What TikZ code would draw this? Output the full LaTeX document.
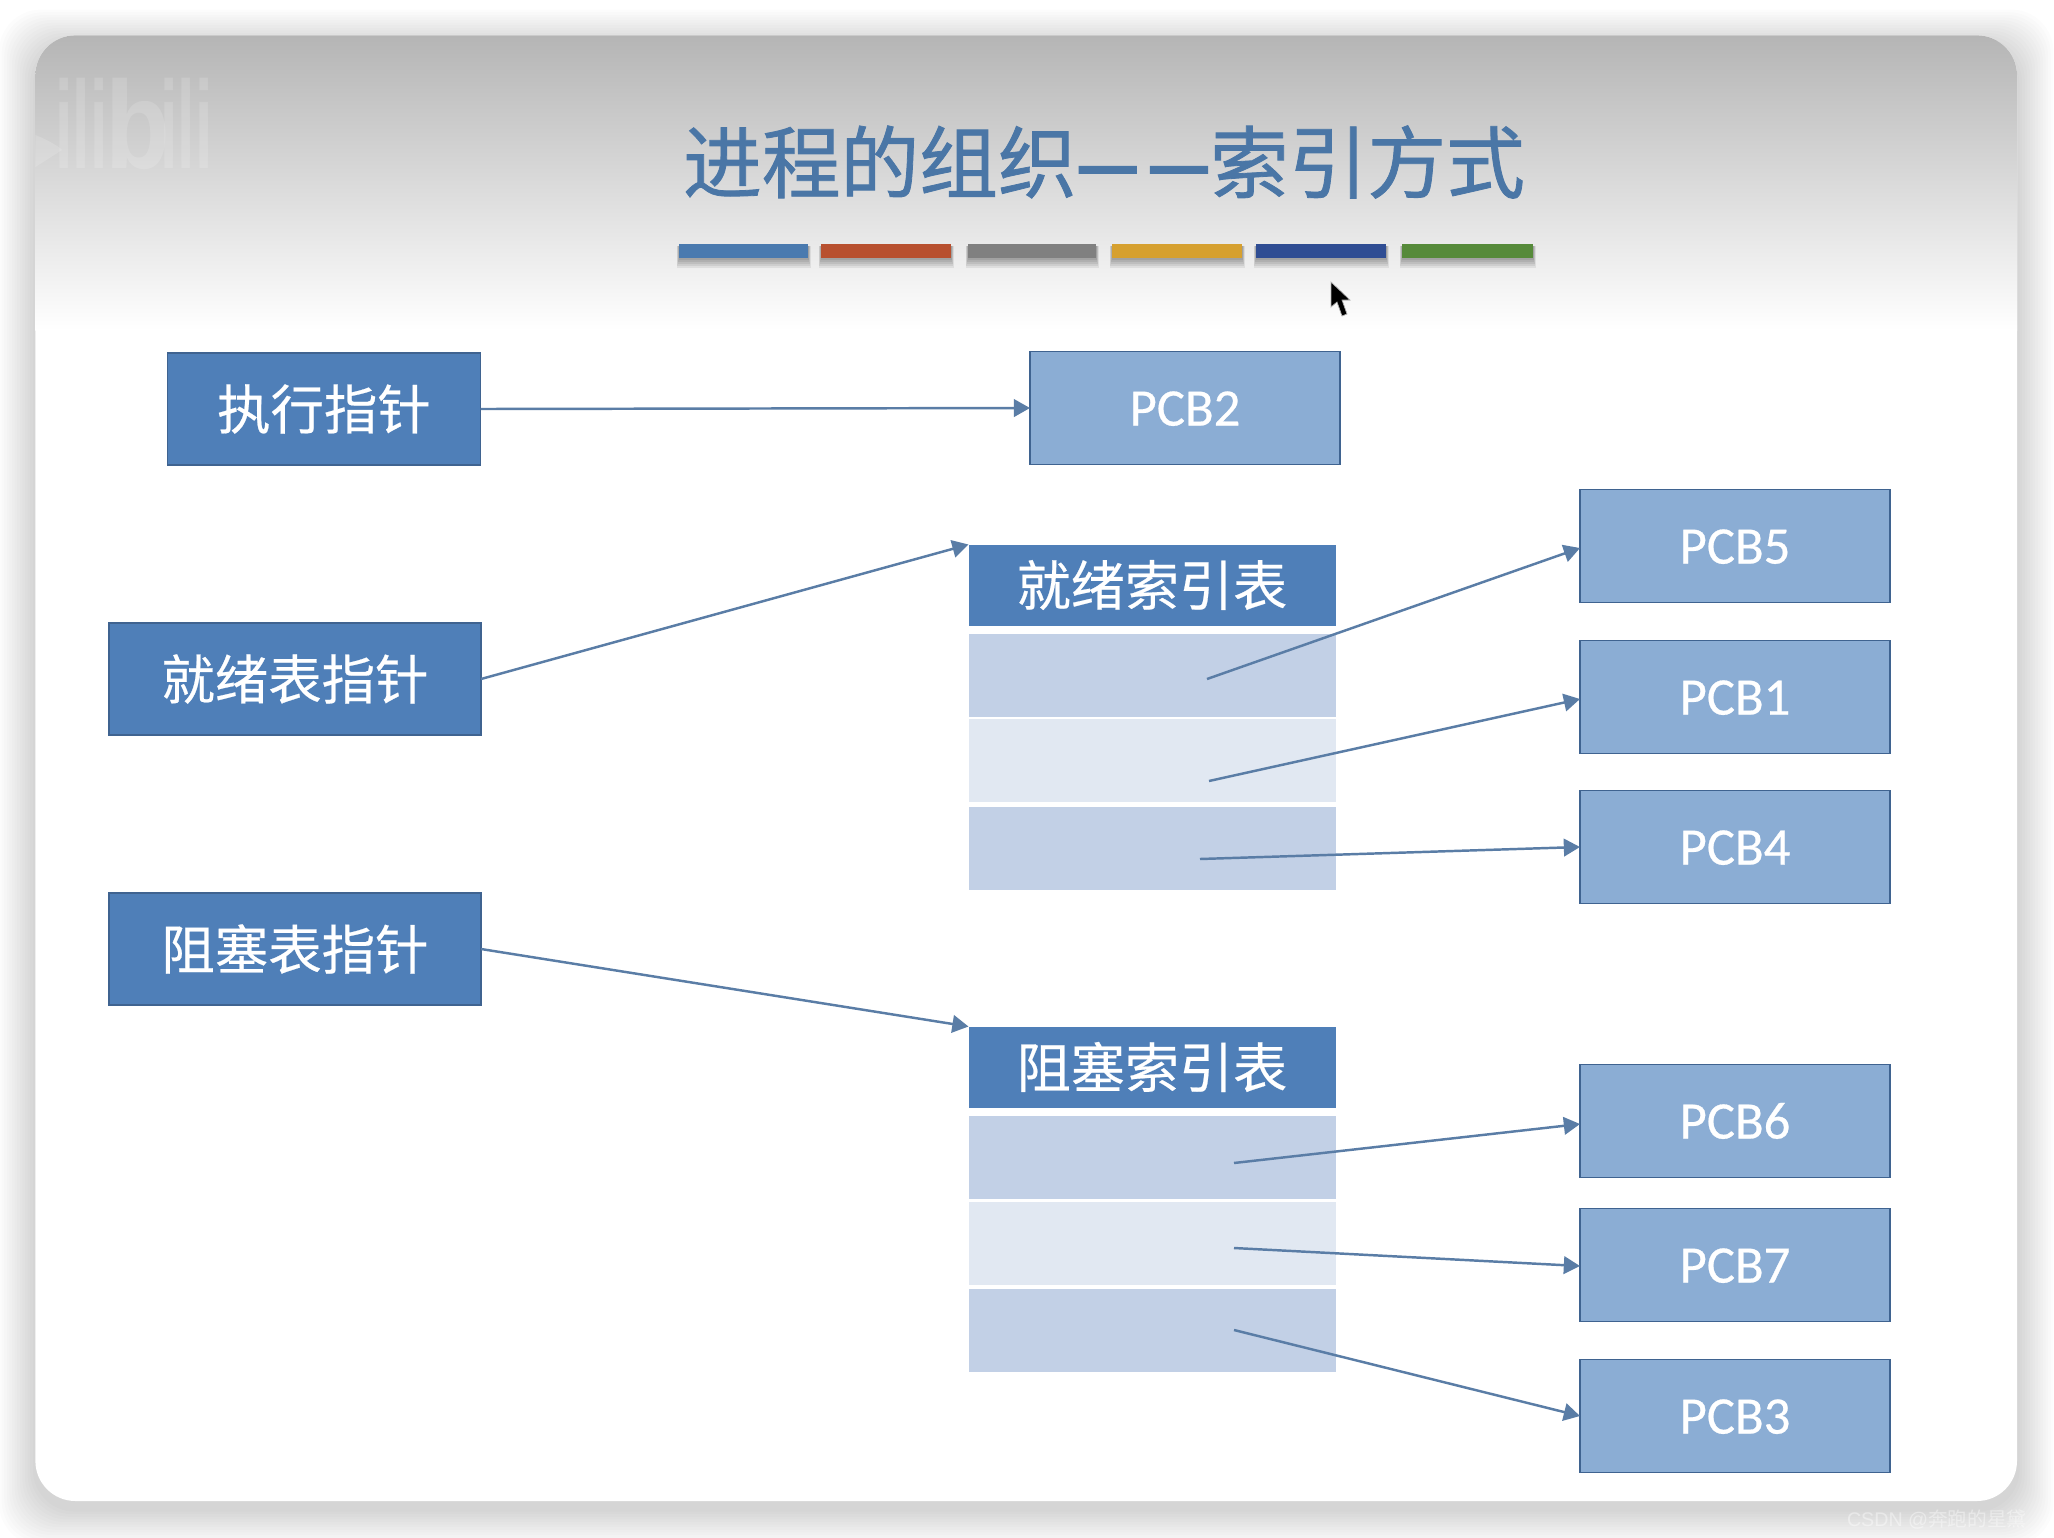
\documentclass[tikz,border=0pt]{standalone}
\usepackage{fontspec}
\setmainfont[FakeBold=0.5]{Carlito}
\newfontfamily\cjk[FakeBold=0.4]{Noto Sans CJK SC}
\newfontfamily\cjktitle[FakeBold=1.0]{Noto Sans CJK SC}
\newfontfamily\cjkdash[FakeBold=4]{Noto Sans CJK SC}
\newfontfamily\cjkthin{Noto Sans CJK SC}
\newfontfamily\wmfont{Liberation Sans}
\usetikzlibrary{arrows.meta}

\definecolor{boxblue}{HTML}{4F7FB8}
\definecolor{boxedge}{HTML}{3F6390}
\definecolor{pcbblue}{HTML}{8BADD4}
\definecolor{rowdark}{HTML}{C2D0E6}
\definecolor{rowlight}{HTML}{E1E8F2}
\definecolor{linkblue}{HTML}{5A7DA6}
\definecolor{titleblue}{HTML}{4A76A6}

\begin{document}
\begin{tikzpicture}[x=1cm,y=1cm,>={Triangle[length=4.6pt,width=5pt]},
  every node/.style={inner sep=0pt,outer sep=0pt},
  ptrbox/.style={draw=boxedge,line width=0.5pt,fill=boxblue,text=white,minimum height=1.12cm,font=\cjk\fontsize{15.2}{18}\selectfont},
  pcbbox/.style={draw=boxedge,line width=0.5pt,fill=pcbblue,text=white,minimum width=3.10cm,minimum height=1.13cm,text height=10.1pt,font=\fontsize{15}{18}\selectfont},
  headbox/.style={fill=boxblue,text=white,minimum width=3.67cm,minimum height=0.81cm,font=\cjk\fontsize{15.4}{18}\selectfont},
  rowbox/.style={minimum width=3.67cm,minimum height=0.83cm},
  logotext/.style={anchor=base,text=white,text opacity=0.15,font=\wmfont\bfseries\fontsize{35.5}{36}\selectfont},
  link/.style={->,draw=linkblue,line width=0.7pt}]
  \useasboundingbox (0,0) rectangle (20.54,-15.38);

  \foreach \d in {1,...,14}
    \fill[black,opacity=0.013,rounded corners=0.42cm] (0.354-\d*0.026,-0.46+\d*0.026) rectangle (20.17+\d*0.026,-15.09-\d*0.026);
  \fill[white,rounded corners=0.4cm] (0.354,-0.354) rectangle (20.17,-15.01);
  \begin{scope}
    \clip[rounded corners=0.4cm] (0.354,-0.354) rectangle (20.17,-15.01);
    \shade[top color=black!29,bottom color=white] (0.354,-0.354) rectangle (20.17,-3.30);
    \fill[white,opacity=0.15] (0.354,-1.35) .. controls (0.48,-1.40) and (0.58,-1.46) .. (0.62,-1.50) -- (0.354,-1.67) -- cycle;
  \end{scope}
  \node[logotext] (logoa) at (0.815,-1.68) {\scalebox{0.5}[1]{ili}};
  \node[logotext] (logob) at (1.375,-1.68) {\scalebox{0.85}[1]{b}};
  \node[logotext] (logoc) at (1.865,-1.68) {\scalebox{0.5}[1]{ili}};

  \node[text=titleblue,font=\cjktitle\fontsize{22.4}{26}\selectfont] (title) at (11.04,-1.62) {进程的组织{\cjkdash\scalebox{0.88}[1]{—}\hspace{0.12em}\scalebox{0.88}[1]{—}}索引方式};

  \foreach \xa/\xb/\col in {6.79/8.08/4A7AAF,8.21/9.51/B8502F,9.68/10.96/808080,11.12/12.42/D6A02F,12.56/13.86/2F4D93,14.02/15.33/568A3A}{
    \definecolor{barcol}{HTML}{\col}
    \foreach \s in {1,...,5}
      \fill[black,opacity=0.07] (\xa-0.005*\s,-2.46) rectangle (\xb+0.005*\s,-2.58-0.02*\s);
    \fill[barcol] (\xa,-2.44) rectangle (\xb,-2.58);
  }

  \filldraw[fill=black,draw=white!70!black,line width=0.2pt] (13.31,-2.82) -- (13.31,-3.07) -- (13.37,-3.02) -- (13.42,-3.16) -- (13.47,-3.14) -- (13.42,-3.00) -- (13.50,-3.00) -- cycle;

  \node[ptrbox,minimum width=3.13cm] (execptr) at (3.24,-4.09) {执行指针};
  \node[ptrbox,minimum width=3.72cm] (rdyptr) at (2.95,-6.79) {就绪表指针};
  \node[ptrbox,minimum width=3.72cm] (blkptr) at (2.95,-9.49) {阻塞表指针};

  \node[pcbbox] (pcb2) at (11.85,-4.08) {PCB2};

  \node[headbox] (rdyhead) at (11.52,-5.85) {就绪索引表};
  \node[rowbox,fill=rowdark] (rdyrowa) at (11.52,-6.75) {};
  \node[rowbox,fill=rowlight] (rdyrowb) at (11.52,-7.60) {};
  \node[rowbox,fill=rowdark] (rdyrowc) at (11.52,-8.48) {};

  \node[headbox] (blkhead) at (11.52,-10.67) {阻塞索引表};
  \node[rowbox,fill=rowdark] (blkrowa) at (11.52,-11.57) {};
  \node[rowbox,fill=rowlight] (blkrowb) at (11.52,-12.43) {};
  \node[rowbox,fill=rowdark] (blkrowc) at (11.52,-13.30) {};

  \node[pcbbox] (pcb5) at (17.35,-5.46) {PCB5};
  \node[pcbbox] (pcb1) at (17.35,-6.97) {PCB1};
  \node[pcbbox] (pcb4) at (17.35,-8.47) {PCB4};
  \node[pcbbox] (pcb6) at (17.35,-11.21) {PCB6};
  \node[pcbbox] (pcb7) at (17.35,-12.65) {PCB7};
  \node[pcbbox] (pcb3) at (17.35,-14.16) {PCB3};

  \coordinate (rdyfroma) at (12.07,-6.79);
  \coordinate (rdyfromb) at (12.09,-7.81);
  \coordinate (rdyfromc) at (12.00,-8.59);
  \coordinate (blkfroma) at (12.34,-11.63);
  \coordinate (blkfromb) at (12.34,-12.48);
  \coordinate (blkfromc) at (12.34,-13.30);

  \draw[link] (execptr.east) -- (pcb2.west);
  \draw[link] (rdyptr.east) -- (rdyhead.north west);
  \draw[link] (blkptr.east) -- (blkhead.north west);
  \draw[link] (rdyfroma) -- ([yshift=-0.02cm]pcb5.west);
  \draw[link] (rdyfromb) -- ([yshift=-0.02cm]pcb1.west);
  \draw[link] (rdyfromc) -- (pcb4.west);
  \draw[link] (blkfroma) -- ([yshift=-0.03cm]pcb6.west);
  \draw[link] (blkfromb) -- ([yshift=-0.01cm]pcb7.west);
  \draw[link] (blkfromc) -- (pcb3.west);

  \node[anchor=base west,text=white,text opacity=0.4,font=\wmfont\fontsize{5.6}{6}\selectfont] (mark) at (18.47,-15.26) {CSDN @{\cjkthin 奔跑的星黛}};
\end{tikzpicture}
\end{document}
